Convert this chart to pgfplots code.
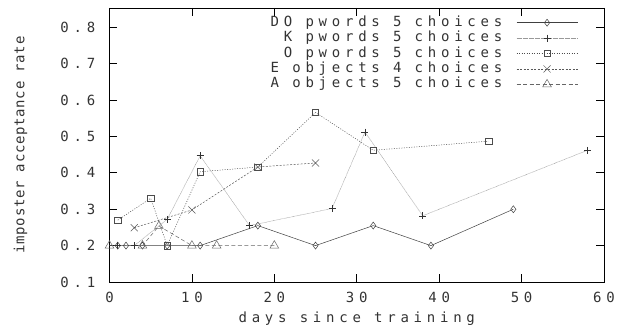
\documentclass[border=0pt]{standalone}
\usepackage{fontspec}
\setmainfont{DejaVu Sans Mono}[LetterSpace=34]
\newfontfamily\ylfont{DejaVu Sans Mono}[LetterSpace=5]
\usepackage{pgfplots}
\pgfplotsset{compat=1.18}
\begin{document}
\begin{tikzpicture}
\useasboundingbox (-109.5pt,-46pt) rectangle (521.5pt,282pt);
\begin{axis}[
  at={(0pt,0pt)}, anchor=south west,
  scale only axis, width=494.5pt, height=274pt,
  xmin=0, xmax=60, ymin=0.1, ymax=0.853,
  xtick={0,10,20,30,40,50,60},
  ytick={0.1,0.2,0.3,0.4,0.5,0.6,0.7,0.8},
  tick pos=both, ticklabel pos=left,
  tick align=inside, major tick length=8pt,
  axis line style={black, line width=0.8pt},
  tick style={black, line width=0.8pt},
  /pgf/number format/assume math mode=true,
  yticklabel style={/pgf/number format/fixed, /pgf/number format/fixed zerofill, /pgf/number format/precision=1},
  every tick label/.append style={font=\fontsize{14}{16}\selectfont, text=black!80, inner sep=0pt},
  xticklabel style={anchor=center, yshift=-15pt},
  yticklabel style={anchor=east, xshift=-14pt},
  xlabel={days since training},
  ylabel={imposter acceptance rate},
  xlabel style={font=\fontsize{14}{16}\selectfont, text=black!80, at={(axis description cs:0.5,-0.135)}, anchor=center},
  ylabel style={font=\ylfont\fontsize{14}{16}\selectfont, text=black!80, at={(axis description cs:-0.18,0.5)}, anchor=center},
  legend image code/.code={\draw[mark repeat=2,mark phase=2,#1] plot coordinates {(0pt,0pt)(30.5pt,0pt)(61pt,0pt)};},
  legend cell align=right, legend plot pos=right,
  legend style={draw=none, fill=none, at={(axis description cs:0.947,0.97)}, anchor=north east,
    inner sep=0pt, outer sep=0pt, row sep=2.4pt, column sep=14pt,
    nodes={inner sep=0pt, text height=10pt, text depth=3pt, font=\fontsize{14}{16}\selectfont, text=black!80}},
]
\addplot[color=black!75, line width=0.5pt, mark=diamond, mark size=3.5pt, mark options={solid}]
 coordinates {(1,0.2)(2,0.2)(4,0.2)(7,0.2)(11,0.2)(18,0.255)(25,0.2)(32,0.255)(39,0.2)(49,0.3)};
\addlegendentry{DO pwords 5 choices}
\addplot[color=black!40, line width=0.5pt, dash pattern=on 0.6pt off 0.6pt, mark=+, mark size=3.5pt, mark options={solid, black!80}]
 coordinates {(1,0.2)(3,0.2)(7,0.272)(11,0.447)(17,0.255)(27,0.302)(31,0.512)(38,0.282)(58,0.462)};
\addlegendentry{K pwords 5 choices}
\addplot[color=black!70, line width=0.5pt, dash pattern=on 1pt off 1.5pt, mark=square, mark size=3.2pt, mark options={solid}]
 coordinates {(1,0.27)(5,0.33)(7,0.2)(11,0.403)(18,0.416)(25,0.566)(32,0.462)(46,0.487)};
\addlegendentry{O pwords 5 choices}
\addplot[color=black!65, line width=0.5pt, dash pattern=on 2pt off 1.5pt, mark=x, mark size=5pt, mark options={solid}]
 coordinates {(3,0.249)(10,0.298)(18,0.416)(25,0.427)};
\addlegendentry{E objects 4 choices}
\addplot[color=black!60, line width=0.5pt, dash pattern=on 4pt off 2.5pt, mark=triangle, mark size=5pt, mark options={solid}]
 coordinates {(0,0.2)(4,0.2)(6,0.254)(10,0.2)(13,0.2)(20,0.2)};
\addlegendentry{A objects 5 choices}
\end{axis}
\end{tikzpicture}
\end{document}
